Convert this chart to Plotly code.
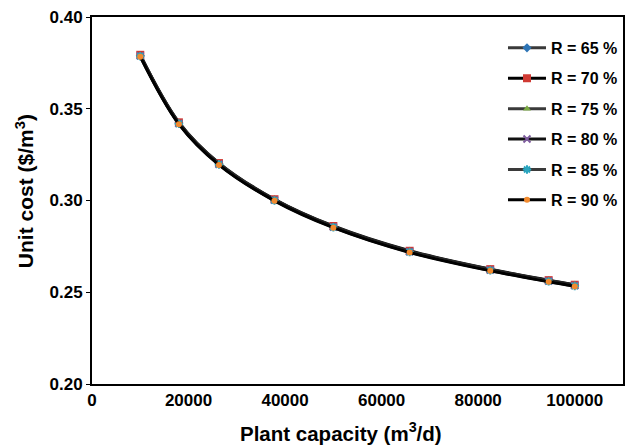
import plotly.graph_objects as go

capacity = [10000, 18000, 26300, 37800, 50000, 65800, 82500, 94600, 100000]
r65 = [0.3790, 0.3422, 0.3200, 0.3004, 0.2858, 0.2723, 0.2623, 0.2563, 0.2538]
r70 = [0.3794, 0.3426, 0.3204, 0.3007, 0.2861, 0.2726, 0.2626, 0.2566, 0.2541]
r75 = [0.3792, 0.3424, 0.3202, 0.3005, 0.2859, 0.2724, 0.2624, 0.2564, 0.2539]
r80 = [0.3788, 0.3420, 0.3198, 0.3002, 0.2856, 0.2721, 0.2621, 0.2561, 0.2536]
r85 = [0.3786, 0.3418, 0.3196, 0.3000, 0.2854, 0.2719, 0.2619, 0.2559, 0.2534]
r90 = [0.3784, 0.3416, 0.3194, 0.2998, 0.2852, 0.2717, 0.2617, 0.2557, 0.2532]

series_names = ["R = 65 %", "R = 70 %", "R = 75 %", "R = 80 %", "R = 85 %", "R = 90 %"]
series_values = [r65, r70, r75, r80, r85, r90]
x_title = "Plant capacity (m<sup>3</sup>/d)"
y_title = "Unit cost ($/m<sup>3</sup>)"
marker_colors = ["#2E75B6", "#D03A33", "#7BAA43", "#7E5C9E", "#2AA5BF", "#F28A2E"]
marker_symbols = ["diamond", "square", "triangle-up", "x-thin", "asterisk", "circle"]
marker_sizes = [7, 8, 7, 7, 7, 6]
line_colors = ["#3a3a3a", "#000000", "#3a3a3a", "#111111", "#3a3a3a", "#000000"]

fig = go.Figure()
for i, (name, vals) in enumerate(zip(series_names, series_values)):
    sym = marker_symbols[i]
    mk = dict(symbol=sym, color=marker_colors[i], size=marker_sizes[i])
    if sym in ("x-thin", "asterisk"):
        mk["line"] = dict(color=marker_colors[i], width=2)
    fig.add_trace(go.Scatter(
        x=capacity, y=vals, name=name, mode="lines+markers",
        line=dict(color=line_colors[i], width=3, shape="spline"),
        marker=mk, legendgroup=name,
    ))

font_family = "Liberation Sans, Arial, sans-serif"
fig.update_layout(
    width=626, height=448,
    margin=dict(l=92, r=3, t=17, b=64, autoexpand=False),
    paper_bgcolor="white", plot_bgcolor="white",
    font=dict(family=font_family, color="black"),
    showlegend=True,
    legend=dict(
        x=0.774, y=0.962, xanchor="left", yanchor="top",
        bgcolor="rgba(0,0,0,0)", tracegroupgap=6.6,
        font=dict(size=16, family=font_family, weight="bold"),
        itemwidth=38,
    ),
    xaxis=dict(
        range=[0, 110000], tickvals=[0, 20000, 40000, 60000, 80000, 100000],
        ticktext=["0", "20000", "40000", "60000", "80000", "100000"],
        showgrid=False, zeroline=False, showline=True, linecolor="black",
        linewidth=2, mirror=True, ticks="", automargin=False,
        ticklabeloverflow="allow",
        tickfont=dict(size=17, weight="bold"),
    ),
    yaxis=dict(
        range=[0.20, 0.40], tickvals=[0.20, 0.25, 0.30, 0.35, 0.40],
        ticktext=["0.20", "0.25", "0.30", "0.35", "0.40"],
        showgrid=False, zeroline=False, showline=True, linecolor="black",
        linewidth=2, mirror=True, ticks="outside", ticklen=4, tickcolor="black",
        automargin=False, ticklabeloverflow="allow",
        tickfont=dict(size=17, weight="bold"),
    ),
    annotations=[
        dict(text=x_title, xref="paper", yref="paper", x=0.469, y=-0.131,
             xanchor="center", yanchor="middle", showarrow=False,
             font=dict(size=20.5, weight="bold")),
        dict(text=y_title, xref="paper", yref="paper", x=-0.1265, y=0.525,
             xanchor="center", yanchor="middle", showarrow=False, textangle=-90,
             font=dict(size=21, weight="bold")),
    ],
)
fig.write_html("out.html", config={"displayModeBar": False},
               post_script="document.body.style.margin='0';document.body.style.overflow='hidden';")
